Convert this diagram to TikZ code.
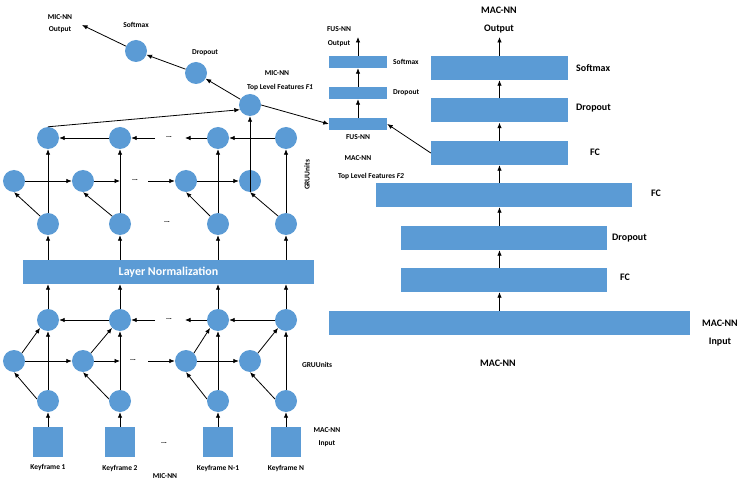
\documentclass[tikz,border=0pt]{standalone}
\usepackage{fontspec}
\setmainfont{Carlito}
\usetikzlibrary{arrows.meta}
\definecolor{unitblue}{RGB}{91,155,213}

\begin{document}
\begin{tikzpicture}[x=1bp,y=-1bp,
gru/.style={%
circle,
fill=unitblue,
minimum size=22bp,
inner sep=0pt
},
keyframe/.style={%
fill=unitblue,
minimum size=30bp,
inner sep=0pt
},
dense/.style={%
fill=unitblue,
minimum height=24bp,
inner sep=0pt
},
fus/.style={%
fill=unitblue,
minimum width=58bp,
minimum height=12bp,
inner sep=0pt
},
lbl/.style={%
font=\bfseries\fontsize{7.5}{9}\selectfont,
anchor=base,
inner sep=0pt
},
biglbl/.style={%
font=\bfseries\fontsize{10}{12}\selectfont,
anchor=base,
inner sep=0pt
},
dots/.style={%
font=\bfseries\fontsize{7.5}{9}\selectfont,
inner sep=0pt
},
conn/.style={%
-{Latex[length=5.5bp,width=4.5bp]},
line width=0.8bp
},
]
\useasboundingbox (0,0) rectangle (750,488);
%% MIC-NN columns
\foreach \i/\xa/\xb/\kname/\ky in {1/48/14/Keyframe 1/469, 2/120/83/Keyframe 2/470.5, 3/218/186/Keyframe N-1/470.5, 4/286/250/Keyframe N/470.5}{%
\node[keyframe](k\i)at(\xa,442){};
\node[lbl](kl\i)at(\xa,\ky){\kname};
\node[gru](b\i)at(\xa,401){};
\node[gru](lf\i)at(\xb,361){};
\node[gru](lt\i)at(\xa,320){};
\node[gru](ub\i)at(\xa,224){};
\node[gru](um\i)at(\xb,181){};
\node[gru](ut\i)at(\xa,138){};
}
\node[dense,minimum width=291bp,text=white,font=\bfseries\fontsize{12}{14}\selectfont](ln)at(168.5,272){Layer Normalization};
\foreach \i in {1,...,4}{%
\draw[conn](k\i)--(b\i);
\draw[conn](b\i.170)--(lf\i.south);
\draw[conn](b\i)--(lt\i);
\draw[conn](lf\i.north east)--(lt\i.south west);
\draw[conn](lt\i)--(lt\i|-ln.south);
\draw[conn](ub\i|-ln.north)--(ub\i);
\draw[conn](ub\i.north west)--(um\i.south);
\draw[conn](ub\i)--(ut\i);
}
%% Recurrent links
\coordinate(lfa)at(120,361);
\coordinate(lfb)at(148,361);
\coordinate(lta)at(155,320);
\coordinate(ltb)at(185,320);
\coordinate(uma)at(120,181);
\coordinate(umb)at(148,181);
\coordinate(uta)at(155,138);
\coordinate(utb)at(185,138);
\draw[conn](lf1)--(lf2);
\draw[conn](lf2)--(lfa);
\draw[conn](lfb)--(lf3);
\draw[conn](lf3)--(lf4);
\draw[conn](lt2)--(lt1);
\draw[conn](lta)--(lt2);
\draw[conn](lt3)--(ltb);
\draw[conn](lt4)--(lt3);
\draw[conn](um1)--(um2);
\draw[conn](um2)--(uma);
\draw[conn](umb)--(um3);
\draw[conn](um3)--(um4);
\draw[conn](ut2)--(ut1);
\draw[conn](uta)--(ut2);
\draw[conn](ut3)--(utb);
\draw[conn](ut4)--(ut3);
\node[dots](d1)at(169,137){...};
\node[dots](d2)at(135,180){...};
\node[dots](d3)at(167,222){...};
\node[dots](d4)at(169,319){...};
\node[dots](d5)at(133,360){...};
\node[dots](d6)at(164,443){...};
\node[lbl,rotate=90,anchor=center](gru1)at(307,175){GRUUnits};
\node[lbl,anchor=base west](gru2)at(302,367.5){GRUUnits};
\node[lbl](micin1)at(327,432.5){MAC-NN};
\node[lbl](micin2)at(327,445.5){Input};
\node[lbl](micname)at(165,478.5){MIC-NN};
%% MIC-NN head
\node[gru](F1)at(250,105){};
\node[gru](do)at(196,73){};
\node[gru](sm)at(136,51){};
\coordinate(micout)at(82,25);
\draw[conn](ut1.north)--(F1.205);
\draw[conn](um4.south)--(F1);
\draw[conn](F1)--(do);
\draw[conn](do)--(sm);
\draw[conn](sm)--(micout);
\node[lbl](mo1)at(60,19.5){MIC-NN};
\node[lbl](mo2)at(60,31.5){Output};
\node[lbl](sml)at(136,27.5){Softmax};
\node[lbl](dol)at(205,54.5){Dropout};
\node[lbl](f1a)at(277,75.5){MIC-NN};
\node[lbl](f1b)at(280,89.5){Top Level Features \textit{F1}};
%% FUS-NN
\node[fus](fus1)at(358,124){};
\node[fus](fus2)at(358,93){};
\node[fus](fus3)at(358,62){};
\coordinate(fusout)at(358,37);
\draw[conn](fus1)--(fus2);
\draw[conn](fus2)--(fus3);
\draw[conn](fus3)--(fusout);
\draw[conn](F1.east)--(fus1.west);
\node[lbl](fo1)at(339,31.5){FUS-NN};
\node[lbl](fo2)at(339,46){Output};
\node[lbl,anchor=base west](fsl)at(393,64.5){Softmax};
\node[lbl,anchor=base west](fdl)at(393,95){Dropout};
\node[lbl](fusname)at(358,140){FUS-NN};
\node[lbl](f2a)at(358,161){MAC-NN};
\node[lbl](f2b)at(371,179){Top Level Features \textit{F2}};
%% MAC-NN
\node[dense,minimum width=361bp](macin)at(509.5,323){};
\node[dense,minimum width=206bp](macfc1)at(504,280){};
\node[dense,minimum width=206bp](macdo1)at(504,238){};
\node[dense,minimum width=256bp](macfc2)at(504,195){};
\node[dense,minimum width=137bp](macfc3)at(499.5,153){};
\node[dense,minimum width=137bp](macdo2)at(499.5,110.5){};
\node[dense,minimum width=137bp](macsm)at(499.5,68){};
\coordinate(macout)at(499.5,37);
\draw[conn](macin.north-|macsm)--(macfc1.south-|macsm);
\draw[conn](macfc1.north-|macsm)--(macdo1.south-|macsm);
\draw[conn](macdo1.north-|macsm)--(macfc2.south-|macsm);
\draw[conn](macfc2.north-|macsm)--(macfc3.south-|macsm);
\draw[conn](macfc3)--(macdo2);
\draw[conn](macdo2)--(macsm);
\draw[conn](macsm)--(macout);
\draw[conn](macfc3.west)--(fus1.east);
\node[biglbl](mo1)at(499,13.2){MAC-NN};
\node[biglbl](mo2)at(499,31.5){Output};
\node[biglbl,anchor=base west](msl)at(576,71.5){Softmax};
\node[biglbl,anchor=base west](mdl2)at(576,111){Dropout};
\node[biglbl](mfl3)at(595,156){FC};
\node[biglbl](mfl2)at(656,196.5){FC};
\node[biglbl,anchor=base west](mdl1)at(612,241){Dropout};
\node[biglbl](mfl1)at(625,281){FC};
\node[biglbl](mi1)at(720,326){MAC-NN};
\node[biglbl](mi2)at(720,344){Input};
\node[biglbl](macname)at(498,366){MAC-NN};
\end{tikzpicture}
\end{document}
